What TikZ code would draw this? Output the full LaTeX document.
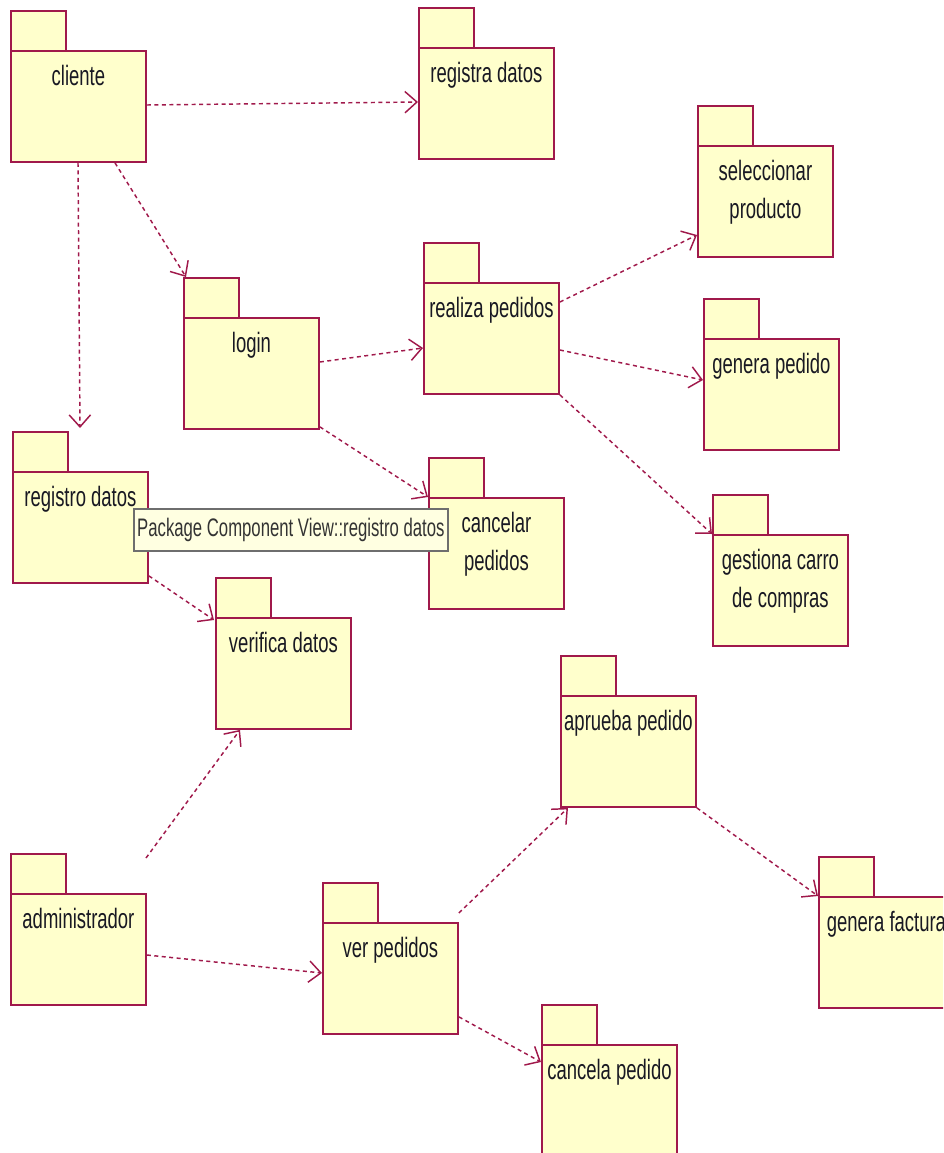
\documentclass[tikz,border=0pt]{standalone}
\usepackage{fontspec}
\usetikzlibrary{arrows.meta,calc}
\newfontfamily\pkgfont[FakeStretch=0.66]{Liberation Sans}
\definecolor{pkgline}{RGB}{160,25,75}
\definecolor{pkgfill}{RGB}{255,255,204}
\definecolor{tipfill}{RGB}{255,255,225}
\definecolor{tipline}{RGB}{110,110,110}
\definecolor{inktext}{RGB}{25,25,35}

\tikzset{
  pkgtab/.style={draw=pkgline, fill=pkgfill, line width=1.4pt, anchor=north west,
    inner sep=0pt, minimum width=41.25pt, minimum height=30pt},
  pkgbody/.style={draw=pkgline, fill=pkgfill, line width=1.4pt, anchor=north west,
    inner sep=0pt, minimum width=101.25pt, minimum height=83.25pt},
  pkglabel/.style={anchor=north, inner sep=0pt, align=center, text=inktext,
    font=\pkgfont\fontsize{21pt}{28.5pt}\selectfont},
  dep/.style={draw=pkgline, line width=1.1pt, dash pattern=on 3pt off 2.6pt,
    -{Straight Barb[length=9pt,width=16pt]}},
  tooltip/.style={draw=tipline, fill=tipfill, line width=1.3pt, anchor=north west,
    minimum width=235.5pt, minimum height=31.5pt, inner xsep=2.5pt, inner ysep=0pt,
    text=black!80, font=\pkgfont\fontsize{19pt}{22pt}\selectfont},
}

% UML package: tab, body and centred label; #1 name, (#2,#3) tab corner, #4 label
\newcommand\umlpackage[4]{%
  \node[pkgtab] (#1-tab) at (#2,#3) {};
  \node[pkgbody] (#1) at (#2,#3+40) {};
  \node[pkglabel] (#1-label) at ($(#1.north)+(0,15)$) {\vphantom{l}#4};
}

\begin{document}
\begin{tikzpicture}[x=0.75pt, y=-0.75pt]
  \useasboundingbox (0,0) rectangle (943,1153);
  \clip (0,0) rectangle (943,1153);

  % packages
  \umlpackage{cliente}{10}{10}{cliente}
  \umlpackage{registra}{418}{7}{registra datos}
  \umlpackage{seleccionar}{697}{105}{seleccionar\\producto}
  \umlpackage{realiza}{423}{242}{realiza pedidos}
  \umlpackage{login}{183}{277}{login}
  \umlpackage{generaped}{703}{298}{genera pedido}
  \umlpackage{registro}{12}{431}{registro datos}
  \umlpackage{cancelar}{428}{457}{cancelar\\pedidos}
  \umlpackage{gestiona}{712}{494}{gestiona carro\\de compras}
  \umlpackage{verifica}{215}{577}{verifica datos}
  \umlpackage{aprueba}{560}{655}{aprueba pedido}
  \umlpackage{administrador}{10}{853}{administrador}
  \umlpackage{ver}{322}{882}{ver pedidos}
  \umlpackage{factura}{818}{856}{genera factura}
  \umlpackage{cancela}{541}{1004}{cancela pedido}

  % dependencies
  \draw[dep] ($(cliente.north east)+(0,55)$) -- ($(registra.north west)+(0,55)$);
  \draw[dep] ($(cliente.south west)+(68,0)$) -- ($(registro-tab.north west)+(68,-3)$);
  \draw[dep] ($(cliente.south west)+(105,0)$) -- ($(login-tab.north west)+(3,0)$);
  \draw[dep] ($(login.north east)+(0,45)$) -- ($(realiza.north west)+(0,66)$);
  \draw[dep] ($(login.south east)+(0,-3)$) -- (cancelar.north west);
  \draw[dep] ($(realiza.north east)+(0,20)$) -- ($(seleccionar.north west)+(0,90)$);
  \draw[dep] ($(realiza.north east)+(0,68)$) -- ($(generaped.north west)+(0,42)$);
  \draw[dep] (realiza.south east) -- (gestiona.north west);
  \draw[dep] ($(registro.south east)+(0,-8)$) -- ($(verifica.north west)+(-1,3)$);
  \coordinate (adminhook) at ($(administrador-tab.north west)+(136,5)$);
  \draw[dep] (adminhook) -- ($(verifica.south west)+(25,0)$);
  \draw[dep] ($(administrador.north east)+(0,62)$) -- ($(ver.north west)+(0,51)$);
  \draw[dep] ($(ver.north east)+(0,-9)$) -- ($(aprueba.south west)+(8,0)$);
  \draw[dep] (aprueba.south east) -- (factura.north west);
  \draw[dep] ($(ver.south east)+(0,-18)$) -- ($(cancela.north west)+(0,18)$);

  % hover tooltip over the registro datos package
  \node[tooltip, align=left] (hint) at (133,508) {Package Component View::registro datos};
\end{tikzpicture}
\end{document}
